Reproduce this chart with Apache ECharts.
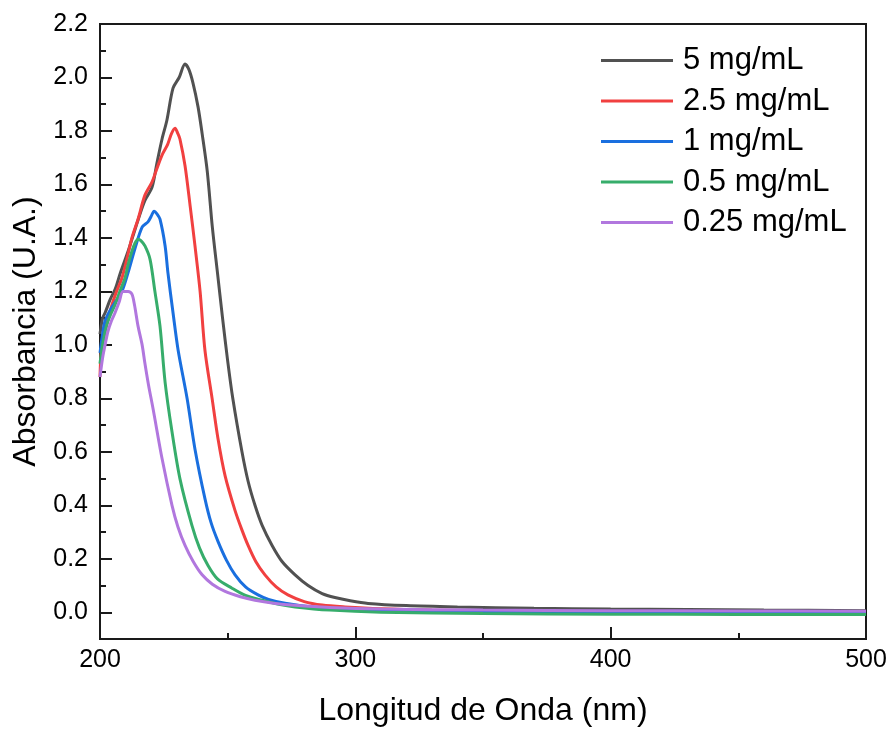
<!DOCTYPE html>
<html>
<head>
<meta charset="utf-8">
<title>Absorbancia</title>
<script src="https://cdn.jsdelivr.net/npm/echarts@6/dist/echarts.min.js"></script>
<style>
  html, body { margin: 0; padding: 0; background: #fff; }
  #chart { width: 894px; height: 732px; }
</style>
</head>
<body>
<div id="chart"></div>
<script>
// wavelength (nm) / absorbance
const wl5 = [200, 201, 202, 204, 206, 208, 211, 213, 215, 217.6, 220.4, 222.3, 224.3, 226.2, 228.6, 231, 233.3, 234.8, 236.4, 238.4, 240, 242, 244, 246, 248, 250, 252, 255.6, 258, 260.7, 263.5, 267.4, 271.3, 276.4, 281.5, 287, 292, 298, 305, 320, 340, 370, 400, 430, 460, 500];
const abs5 = [1.04, 1.10, 1.12, 1.17, 1.21, 1.27, 1.35, 1.41, 1.47, 1.54, 1.59, 1.68, 1.77, 1.84, 1.96, 2.00, 2.05, 2.03, 1.98, 1.89, 1.79, 1.65, 1.44, 1.27, 1.10, 0.94, 0.80, 0.60, 0.49, 0.40, 0.325, 0.25, 0.19, 0.14, 0.10, 0.07, 0.055, 0.043, 0.033, 0.025, 0.02, 0.015, 0.012, 0.01, 0.008, 0.006];

const wl25 = [200, 200.5, 201.5, 203, 204.7, 206.5, 208.6, 210.5, 212.5, 214.9, 217.6, 220.4, 222.3, 224.3, 226.5, 228, 229.4, 230.5, 231.3, 233.3, 235.3, 237.2, 239.2, 241.1, 243.9, 246.2, 249, 252.9, 255.5, 258, 261, 264.6, 269, 273.6, 280, 287, 296, 310, 330, 360, 400, 450, 500];
const abs25 = [0.88, 0.98, 1.03, 1.09, 1.15, 1.20, 1.25, 1.32, 1.40, 1.47, 1.56, 1.61, 1.66, 1.71, 1.75, 1.79, 1.81, 1.79, 1.77, 1.67, 1.52, 1.37, 1.20, 0.98, 0.80, 0.65, 0.51, 0.38, 0.31, 0.25, 0.19, 0.14, 0.095, 0.065, 0.04, 0.027, 0.02, 0.013, 0.008, 0.004, 0.0, -0.004, -0.005];

const wl1 = [200, 201, 202, 204, 206, 208.6, 211, 213.7, 216.5, 218.8, 220, 221.2, 222.3, 223.5, 225.5, 226.6, 228.6, 230.6, 234.1, 237.2, 241.1, 243.5, 246.2, 249.5, 252.9, 257, 261.9, 266, 272.5, 283, 295, 310, 340, 400, 450, 500];
const abs1 = [0.97, 1.04, 1.09, 1.13, 1.16, 1.20, 1.27, 1.36, 1.44, 1.46, 1.48, 1.50, 1.49, 1.47, 1.37, 1.27, 1.12, 0.98, 0.80, 0.61, 0.425, 0.335, 0.265, 0.195, 0.14, 0.095, 0.065, 0.048, 0.034, 0.02, 0.012, 0.006, 0.002, 0.0, -0.002, -0.003];

const wl05 = [200, 201, 202.5, 204, 205.9, 207.8, 209.8, 211, 212.5, 213.7, 214.9, 216, 217.6, 219.6, 221.5, 223.5, 225.5, 228.2, 231.3, 236, 239, 242.3, 246, 251.7, 257, 263.5, 270, 276.4, 290, 310, 350, 400, 450, 500];
const abs05 = [0.93, 1.0, 1.07, 1.11, 1.15, 1.20, 1.25, 1.30, 1.35, 1.38, 1.395, 1.39, 1.37, 1.32, 1.20, 1.07, 0.86, 0.675, 0.50, 0.325, 0.24, 0.175, 0.125, 0.09, 0.063, 0.045, 0.03, 0.02, 0.008, 0.0, -0.005, -0.007, -0.008, -0.008];

const wl025 = [200, 201, 202, 203.1, 204.5, 205.9, 207.5, 209, 211, 212.5, 213.5, 214.9, 216.5, 217.6, 219, 220.8, 224.3, 228.2, 230.5, 233.3, 236.5, 240, 244, 249, 255, 260.7, 268, 276.4, 290, 310, 350, 400, 450, 500];
const abs025 = [0.88, 0.95, 1.0, 1.05, 1.09, 1.12, 1.16, 1.20, 1.20, 1.19, 1.15, 1.07, 1.00, 0.93, 0.85, 0.76, 0.575, 0.40, 0.32, 0.25, 0.19, 0.14, 0.105, 0.078, 0.058, 0.045, 0.034, 0.026, 0.018, 0.012, 0.008, 0.006, 0.005, 0.004];

const seriesNames = ['5 mg/mL', '2.5 mg/mL', '1 mg/mL', '0.5 mg/mL', '0.25 mg/mL'];
const seriesColors = ['#515151', '#F14040', '#1A6FDF', '#37AD6B', '#B177DE'];

const yLabelValues = [0, 0.2, 0.4, 0.6, 0.8, 1.0, 1.2, 1.4, 1.6, 1.8, 2.0, 2.2];
const yMinorValues = [0.1, 0.3, 0.5, 0.7, 0.9, 1.1, 1.3, 1.5, 1.7, 1.9, 2.1];

function zipPairs(xs, ys) {
  let out = [];
  for (var i = 0; i < xs.length; i++) {
    out.push([xs[i], ys[i]]);
  }
  return out;
}

const allData = [
  zipPairs(wl5, abs5),
  zipPairs(wl25, abs25),
  zipPairs(wl1, abs1),
  zipPairs(wl05, abs05),
  zipPairs(wl025, abs025)
];

const font = 'Liberation Sans, Arial, sans-serif';
const axisColor = '#1a1a1a';

let seriesList = [];
for (var i = 0; i < seriesNames.length; i++) {
  seriesList.push({
    name: seriesNames[i],
    type: 'line',
    data: allData[i],
    showSymbol: false,
    symbol: 'none',
    smooth: 0.3,
    color: seriesColors[i],
    lineStyle: { width: 3, color: seriesColors[i] }
  });
}

const chart = echarts.init(document.getElementById('chart'));
chart.setOption({
  animation: false,
  backgroundColor: '#fff',
  grid: {
    left: 100, right: 28, top: 24, bottom: 91,
    show: true, borderColor: axisColor, borderWidth: 2
  },
  legend: {
    orient: 'vertical',
    left: 596,
    top: 40,
    itemWidth: 72,
    itemHeight: 14,
    itemGap: 9.5,
    icon: 'path://M0,5.5 L72,5.5 L72,8.5 L0,8.5 Z',
    data: seriesNames,
    textStyle: {
      fontFamily: font,
      fontSize: 31,
      color: '#000',
      lineHeight: 30,
      padding: [0, 0, 0, 5]
    }
  },
  xAxis: {
    type: 'value',
    min: 200,
    max: 500,
    interval: 100,
    name: 'Longitud de Onda (nm)',
    nameLocation: 'middle',
    nameGap: 56,
    nameTextStyle: { fontFamily: font, fontSize: 32, color: '#000' },
    axisLine: { show: true, onZero: false, lineStyle: { color: axisColor, width: 2 } },
    axisTick: { show: true, inside: true, length: 12, lineStyle: { color: axisColor, width: 2 } },
    minorTick: { show: true, splitNumber: 2, length: 6, lineStyle: { color: axisColor, width: 2 } },
    axisLabel: { fontFamily: font, fontSize: 25, color: '#000', margin: 9 },
    splitLine: { show: false }
  },
  yAxis: [
    {
      type: 'value',
      min: -0.1,
      max: 2.2,
      name: 'Absorbancia (U.A.)',
      nameLocation: 'middle',
      nameGap: 56,
      nameTextStyle: { fontFamily: font, fontSize: 32, color: '#000' },
      axisLine: { show: true, onZero: false, lineStyle: { color: axisColor, width: 2 } },
      axisTick: {
        show: true, inside: true, length: 12,
        customValues: yLabelValues.slice(0, 11),
        lineStyle: { color: axisColor, width: 2 }
      },
      axisLabel: {
        fontFamily: font, fontSize: 25, color: '#000', margin: 12,
        customValues: yLabelValues,
        formatter: function (v) { return v.toFixed(1); }
      },
      splitLine: { show: false }
    },
    {
      type: 'value',
      min: -0.1,
      max: 2.2,
      position: 'left',
      axisLine: { show: false },
      axisTick: {
        show: true, inside: true, length: 6,
        customValues: yMinorValues,
        lineStyle: { color: axisColor, width: 2 }
      },
      axisLabel: { show: false },
      splitLine: { show: false }
    }
  ],
  series: seriesList
});
</script>
</body>
</html>
